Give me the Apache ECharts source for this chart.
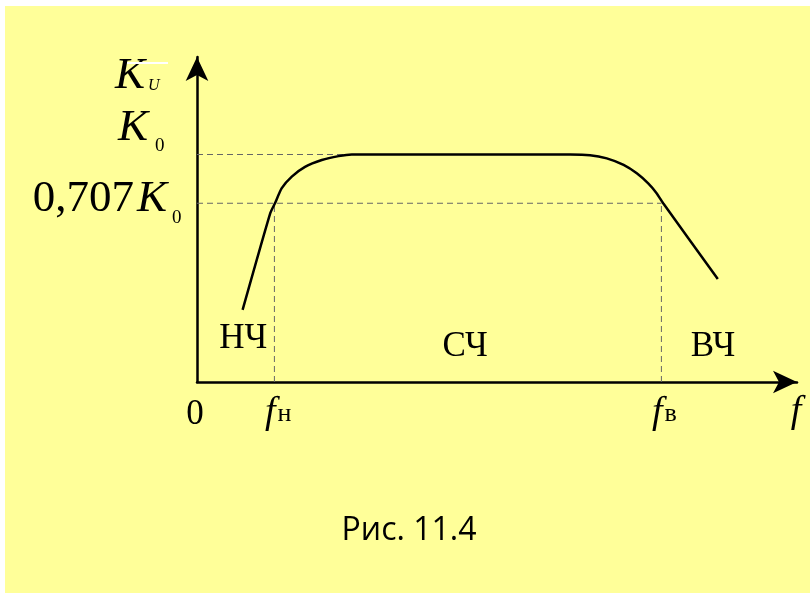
<!DOCTYPE html>
<html>
<head>
<meta charset="utf-8">
<script src="https://cdn.jsdelivr.net/npm/echarts@6/dist/echarts.min.js"></script>
<style>
html, body { margin: 0; padding: 0; background: #fff; }
#chart { width: 810px; height: 593px; }
</style>
</head>
<body>
<div id="chart"></div>
<script>
// АЧХ усилителя, условные единицы: f 0..100, K 0..100
const curveF = [7.6, 12.2, 13.0, 14.1, 15.8, 18.0, 20.8, 23.6, 25.8, 62.2, 65.5, 68.3, 71.1, 73.3, 75.2, 76.6, 77.7, 86.8];
const curveK = [22.2, 51.9, 55.0, 59.6, 63.2, 66.2, 68.3, 69.5, 70, 70, 69.8, 68.8, 66.8, 64.2, 61.1, 58.1, 55.0, 31.7];
const levelK0 = 70;
const level707 = 55;
const fLow = 12.9;
const fHigh = 77.4;
const flatStart = 25.5;

const xTickValues = [0, fLow, fHigh];
const xTickMain = ['0', 'f', 'f'];
const xTickSub = ['', 'н', 'в'];
const yTickValues = [levelK0, level707];
const yTickPrefix = ['', '0,707'];
const yTickMain = ['K', 'K'];
const yTickSub = ['0', '0'];
const bandNames = ['НЧ', 'СЧ', 'ВЧ'];
const bandF = [7.7, 44.7, 86.0];
const bandK = [13.2, 10.8, 10.8];

const serif = '"Liberation Serif", "Times New Roman", serif';
const chart = echarts.init(document.getElementById('chart'));

const dashed = {color: '#666', width: 1, type: [6, 4]};
const dashSeries = (data) => ({
  type: 'line', data: data, symbol: 'none', silent: true,
  lineStyle: dashed, z: 1
});

const axisStyle = {
  show: true, onZero: false,
  symbol: ['none', 'arrow'], symbolSize: [17, 24],
  lineStyle: {color: '#000', width: 2.5}
};

chart.setOption({
  animation: false,
  backgroundColor: '#fff',
  grid: {left: 197, top: 57, width: 600, height: 325},
  xAxis: {
    type: 'value', min: 0, max: 100,
    axisLine: axisStyle,
    axisTick: {show: false}, axisLabel: {show: false}, splitLine: {show: false}
  },
  yAxis: {
    type: 'value', min: 0, max: 100,
    axisLine: axisStyle,
    axisTick: {show: false}, axisLabel: {show: false}, splitLine: {show: false}
  },
  series: [
    dashSeries([[0, levelK0], [flatStart, levelK0]]),
    dashSeries([[0, level707], [fHigh, level707]]),
    dashSeries([[fLow, 0], [fLow, level707]]),
    dashSeries([[fHigh, 0], [fHigh, level707]]),
    {
      type: 'line', symbol: 'none', z: 3, smooth: 0.2,
      data: curveF.map((f, i) => [f, curveK[i]]),
      lineStyle: {color: '#000', width: 2.5}
    }
  ]
});

const px = (f, k) => chart.convertToPixel({gridIndex: 0}, [f, k]);
const axisX = px(0, 0)[0];
const axisY = px(0, 0)[1];

const txt = (x, y, text, font, align) => ({
  type: 'text', x: x, y: y, z: 10,
  style: {
    text: text, font: font, fill: '#000',
    textAlign: align || 'center', textVerticalAlign: 'middle',
    align: align || 'center', verticalAlign: 'middle'
  }
});

const g = [];
// фон
g.push({type: 'rect', shape: {x: 5, y: 6, width: 805, height: 587}, style: {fill: '#FFFF99'}, z: -10, silent: true});

// подпись оси K_U
g.push(txt(axisX - 52, 76, 'K', 'italic 45px ' + serif, 'right'));
g.push(txt(axisX - 49, 86, 'U', 'italic 16px ' + serif, 'left'));
g.push({type: 'line', shape: {x1: axisX - 70, y1: 63, x2: axisX - 29, y2: 63}, style: {stroke: '#fff', lineWidth: 2}, z: 10});

// метки по оси K
const yLay = [{k: -49, dy: -26, s: -42, sdy: -8}, {k: -30, dy: -4, s: -25, sdy: 15}];
yTickValues.forEach((v, i) => {
  const y = px(0, v)[1];
  const L = yLay[i];
  if (yTickPrefix[i]) g.push(txt(axisX + L.k - 33, y + L.dy, yTickPrefix[i], '45px ' + serif, 'right'));
  g.push(txt(axisX + L.k, y + L.dy, yTickMain[i], 'italic 45px ' + serif, 'right'));
  g.push(txt(axisX + L.s, y + L.sdy, yTickSub[i], '19px ' + serif, 'left'));
});

// метки по оси f
xTickValues.forEach((v, i) => {
  const x = px(v, 0)[0];
  if (xTickSub[i]) {
    g.push(txt(x - 4, axisY + 31, xTickMain[i], 'italic 38px ' + serif, 'center'));
    g.push(txt(x + 3, axisY + 32, xTickSub[i], '26px ' + serif, 'left'));
  } else {
    g.push(txt(x - 2, axisY + 33, xTickMain[i], '35px ' + serif, 'center'));
  }
});
g.push(txt(796, axisY + 30, 'f', 'italic 38px ' + serif, 'center'));

// полосы частот
bandNames.forEach((n, i) => {
  const p = px(bandF[i], bandK[i]);
  g.push(txt(p[0], p[1], n, '35px ' + serif, 'center'));
});

// подпись рисунка
g.push(txt(409, 531, 'Рис. 11.4', '32px "Open Sans", "Noto Sans", sans-serif', 'center'));

chart.setOption({graphic: {elements: g}});
</script>
</body>
</html>
